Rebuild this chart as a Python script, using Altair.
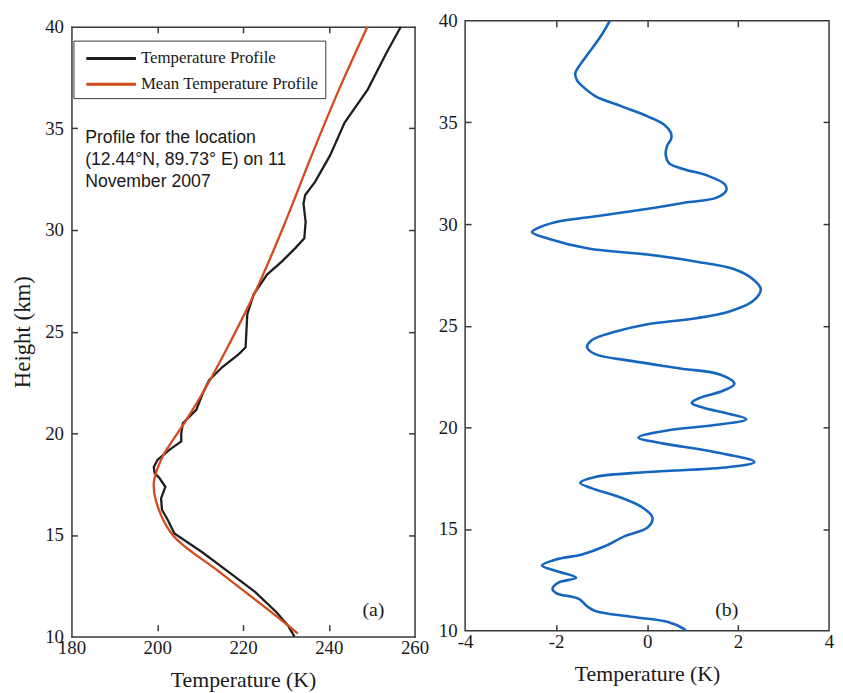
import altair as alt
import pandas as pd

# ---------------- panel (a): temperature profile + mean profile ----------------
profile_height = [40.0, 38.7, 36.92, 35.29, 33.67, 32.37, 31.72, 31.3, 30.41, 29.6,
                  29.11, 28.46, 27.81, 26.84, 25.86, 24.23, 23.91, 23.26, 22.61, 21.96,
                  21.15, 20.5, 20.0, 19.6, 19.2, 18.7, 18.35, 18.05, 17.8, 17.37,
                  16.8, 16.24, 15.76, 15.07, 14.15, 13.17, 12.2, 11.2, 10.54, 10.0]
profile_temp = [256.8, 253.4, 249.1, 243.7, 240.3, 236.8, 234.5, 234.1, 234.6, 234.3,
                232.2, 229.1, 225.6, 222.5, 221.0, 220.6, 219.1, 215.2, 212.1, 210.6,
                209.1, 206.0, 205.6, 205.6, 202.9, 200.1, 199.2, 199.4, 200.5, 201.9,
                200.9, 201.1, 202.4, 204.0, 210.5, 216.7, 222.8, 227.8, 230.5, 232.0]

mean_height = [40.0, 36.92, 33.67, 30.41, 27.16, 23.91, 22.28, 20.66, 19.03, 18.4,
               17.56, 16.6, 15.0, 13.2, 11.2, 10.15]
mean_temp = [249.0, 242.4, 236.0, 229.9, 223.3, 215.6, 211.4, 206.8, 201.7, 200.3,
             199.2, 199.8, 203.6, 214.4, 226.6, 232.8]

series_names = ["Temperature Profile", "Mean Temperature Profile"]
series_colors = ["#1e1e1e", "#d44a1c"]

note_text = ["Profile for the location\n(12.44°N, 89.73° E) on 11\nNovember 2007"]
note_temp = [183.2]
note_height = [34.97]

tag_a_text = ["(a)"]
tag_a_temp = [250.4]
tag_a_height = [11.3]

# ---------------- panel (b): temperature perturbation ----------------
pert_height = [40.0, 39.2, 38.4, 37.75, 37.4, 37.07, 36.8, 36.3, 35.8, 35.3,
               34.9, 34.5, 34.2, 33.85, 33.4, 33.0, 32.7, 32.4, 31.95, 31.65,
               31.3, 31.07, 30.7, 30.4, 30.1, 29.76, 29.6, 29.27, 28.8, 28.5,
               28.15, 27.8, 27.3, 26.8, 26.2, 25.7, 25.37, 25.07, 24.7, 24.3,
               23.95, 23.6, 23.27, 22.9, 22.6, 22.15, 21.8, 21.46, 21.2, 20.96,
               20.66, 20.4, 20.1, 19.85, 19.5, 19.2, 18.8, 18.3, 18.05, 17.8,
               17.56, 17.27, 17.0, 16.6, 16.1, 15.56, 15.07, 14.65, 14.15, 13.75,
               13.5, 13.2, 12.9, 12.6, 12.37, 12.05, 11.85, 11.56, 11.2, 10.97,
               10.68, 10.44, 10.1, 10.0]
pert_temp = [-0.82, -1.03, -1.29, -1.50, -1.58, -1.54, -1.43, -1.14, -0.57, 0.01,
             0.37, 0.52, 0.53, 0.44, 0.41, 0.48, 0.81, 1.31, 1.71, 1.74,
             1.53, 0.88, -0.13, -1.07, -2.0, -2.44, -2.53, -2.15, -1.29, 0.01,
             1.09, 1.89, 2.32, 2.50, 2.32, 1.81, 1.09, 0.01, -0.71, -1.21,
             -1.32, -1.14, -0.35, 0.73, 1.60, 1.92, 1.67, 1.17, 0.98, 1.24,
             1.81, 2.18, 1.45, 0.44, -0.19, 0.37, 1.45, 2.36, 1.81, 0.01,
             -1.14, -1.47, -1.21, -0.64, -0.13, 0.12, 0.01, -0.49, -0.93, -1.43,
             -2.0, -2.31, -1.94, -1.56, -1.94, -2.08, -2.0, -1.5, -1.32, -1.14,
             -0.35, 0.44, 0.80, 0.85]
pert_color = "#1466bf"

tag_b_text = ["(b)"]
tag_b_temp = [1.75]
tag_b_height = [11.0]

# ticks
height_ticks = [10, 15, 20, 25, 30, 35, 40]
temp_ticks_a = [180, 200, 220, 240, 260]
temp_ticks_b = [-4, -2, 0, 2, 4]

W_A, W_B, H = 346, 367, 615
DROP_A = 6            # panel (a) frame sits a little lower than panel (b)
SERIF = "Liberation Serif"
SANS = "Liberation Sans"
INK = "#1a1a1a"
FRAME = "#383838"


def label_axis(orient, values, title=None, title_size=22, label_pad=2, title_pad=10,
               domain=False, label_expr="datum.label"):
    return alt.Axis(orient=orient, values=values, title=title, domain=domain,
                    domainColor=FRAME, domainWidth=1.5, domainCap="square", ticks=False,
                    grid=False, labelFont=SERIF, labelFontSize=19, labelColor=INK,
                    labelPadding=label_pad, labelFlush=False, labelOverlap=False,
                    labelExpr=label_expr,
                    titleFont=SERIF, titleFontSize=title_size, titleFontWeight="normal",
                    titleColor=INK, titlePadding=title_pad)


def tick_axis(orient, offset, values, domain=False):
    return alt.Axis(orient=orient, offset=offset, values=values, labels=False, title=None,
                    domain=domain, domainColor=FRAME, domainWidth=1.5, domainCap="square",
                    grid=False, ticks=True, tickSize=6, tickWidth=1.5, tickColor=FRAME)


ysc_a = alt.Scale(domain=[10, 40], nice=False, zero=False, range=[H + DROP_A, DROP_A])
ysc_b = alt.Scale(domain=[10, 40], nice=False, zero=False)
xsc_a = alt.Scale(domain=[180, 260], nice=False, zero=False)
xsc_b = alt.Scale(domain=[-4, 4], nice=False, zero=False)

# ---------------- build panel (a) ----------------
df_prof = pd.DataFrame({"h": profile_height, "t": profile_temp, "series": series_names[0]})
df_mean = pd.DataFrame({"h": mean_height, "t": mean_temp, "series": series_names[1]})
df_note = pd.DataFrame({"h": note_height, "t": note_temp, "text": note_text})
df_tag_a = pd.DataFrame({"h": tag_a_height, "t": tag_a_temp, "text": tag_a_text})

legend = alt.Legend(title=None, orient="none", legendX=2, legendY=DROP_A + 14,
                    symbolType="M-0.476,0L4.286,0", symbolSize=441, symbolStrokeWidth=3,
                    labelFont=SERIF, labelFontSize=17, labelColor=INK, labelOffset=38,
                    padding=6, rowPadding=6, strokeColor=FRAME, fillColor="white",
                    cornerRadius=0, labelLimit=400)
color = alt.Color("series:N", scale=alt.Scale(domain=series_names, range=series_colors),
                  legend=legend)

prof_line = alt.Chart(df_prof).mark_line(strokeWidth=2.3).encode(
    x=alt.X("t:Q", scale=xsc_a,
            axis=label_axis("bottom", temp_ticks_a, "Temperature (K)", 22, 2, 12, domain=True)),
    y=alt.Y("h:Q", scale=ysc_a,
            axis=label_axis("left", height_ticks, "Height (km)", 23, 8, 10, domain=True)),
    order=alt.Order("h:Q"),
    color=color,
)
mean_line = alt.Chart(df_mean).mark_line(strokeWidth=2.3, interpolate="catmull-rom").encode(
    x=alt.X("t:Q", scale=xsc_a, axis=tick_axis("top", -H, temp_ticks_a[1:-1])),
    y=alt.Y("h:Q", scale=ysc_a, axis=tick_axis("right", -W_A, height_ticks[1:-1])),
    order=alt.Order("h:Q"),
    color=color,
)
note = alt.Chart(df_note).mark_text(align="left", baseline="top", font=SANS, fontSize=17.8,
                                    lineHeight=22.5, lineBreak="\n", color=INK).encode(
    x=alt.X("t:Q", scale=xsc_a, axis=tick_axis("bottom", -H, temp_ticks_a[1:-1], domain=True)),
    y=alt.Y("h:Q", scale=ysc_a, axis=tick_axis("left", -W_A, height_ticks[1:-1], domain=True)),
    text="text:N",
)
tag_a = alt.Chart(df_tag_a).mark_text(font=SERIF, fontSize=20, color=INK).encode(
    x=alt.X("t:Q", scale=xsc_a, axis=None),
    y=alt.Y("h:Q", scale=ysc_a, axis=None),
    text="text:N",
)
panel_a = alt.layer(prof_line, mean_line, note, tag_a).resolve_axis(
    x="independent", y="independent").properties(
    width=W_A, height=H + DROP_A, view=alt.ViewBackground(stroke="transparent"))

# ---------------- build panel (b) ----------------
df_pert = pd.DataFrame({"h": pert_height, "t": pert_temp})
df_tag_b = pd.DataFrame({"h": tag_b_height, "t": tag_b_temp, "text": tag_b_text})

minus_expr = "datum.value < 0 ? '-' + abs(datum.value) : '' + datum.value"
pert_line = alt.Chart(df_pert).mark_line(strokeWidth=2.6, color=pert_color,
                                         interpolate="catmull-rom").encode(
    x=alt.X("t:Q", scale=xsc_b,
            axis=label_axis("bottom", temp_ticks_b, "Temperature (K)", 22, 2, 12,
                            label_expr=minus_expr)),
    y=alt.Y("h:Q", scale=ysc_b, axis=label_axis("left", height_ticks, None, 23, 8, 10)),
    order=alt.Order("h:Q"),
)
tag_b = alt.Chart(df_tag_b).mark_text(font=SERIF, fontSize=20, color=INK).encode(
    x=alt.X("t:Q", scale=xsc_b, axis=tick_axis("top", -H, temp_ticks_b[1:-1])),
    y=alt.Y("h:Q", scale=ysc_b, axis=tick_axis("right", -W_B, height_ticks[1:-1])),
    text="text:N",
)
pert_ghost = alt.Chart(df_pert).mark_line(opacity=0).encode(
    x=alt.X("t:Q", scale=xsc_b, axis=tick_axis("bottom", -H, temp_ticks_b[1:-1])),
    y=alt.Y("h:Q", scale=ysc_b, axis=tick_axis("left", -W_B, height_ticks[1:-1])),
    order=alt.Order("h:Q"),
)
panel_b = alt.layer(pert_line, tag_b, pert_ghost).resolve_axis(
    x="independent", y="independent").properties(width=W_B, height=H)

chart = alt.hconcat(panel_a, panel_b, spacing=51, bounds="flush").properties(
    padding={"left": 3, "top": 0, "right": 0, "bottom": 0},
    background="white",
).configure_view(stroke=FRAME, strokeWidth=1.5)

chart.save("out.html", embed_options={"renderer": "svg", "actions": False})
